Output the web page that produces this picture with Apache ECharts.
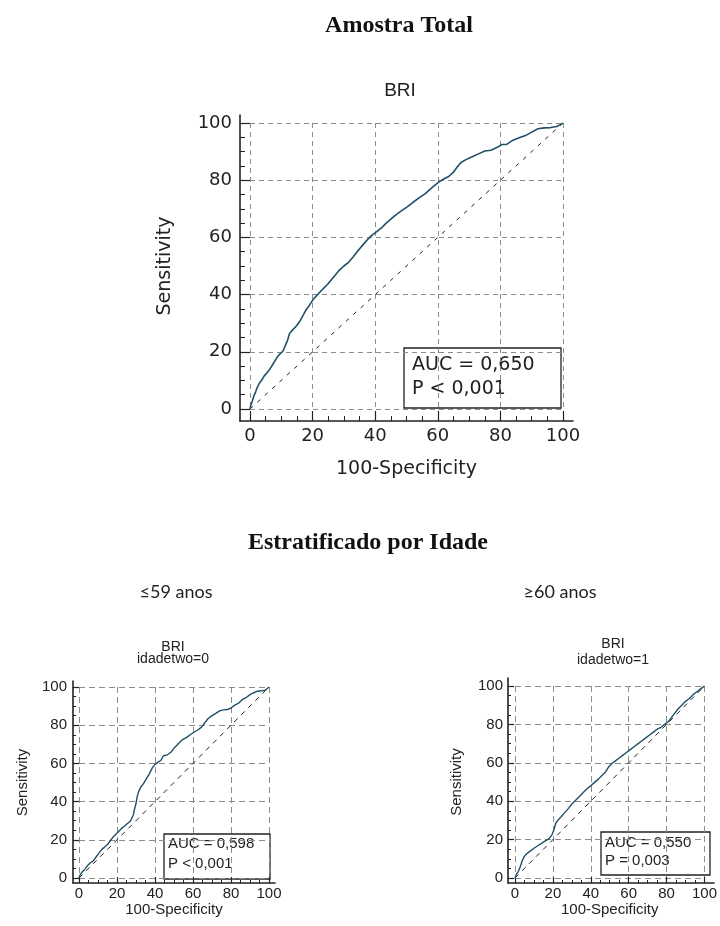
<!DOCTYPE html>
<html>
<head>
<meta charset="utf-8">
<script src="https://cdn.jsdelivr.net/npm/echarts@6/dist/echarts.min.js"></script>
<style>
html,body{margin:0;padding:0;background:#fff;}
#c{width:720px;height:926px;}
</style>
</head>
<body>
<div id="c"></div>
<script>
// ---------- data ----------
var axisTicks = [0, 20, 40, 60, 80, 100];
var diagonal = [[0, 0], [100, 100]];

// Amostra Total - BRI
var rocTotal = [[0,0],[0.3,1.5],[0.8,3],[1.2,4.5],[1.8,6],[2.3,7.5],[3,9],[3.8,10.2],[4.5,11.5],[5.5,12.8],[6.5,14.2],[7.5,16],[8.5,17.8],[9.5,19.2],[10.5,20.2],[11.2,22],[12,24],[12.6,26.3],[13.5,27.5],[14.8,29],[16,30.8],[17,32.8],[18,34.8],[19,36.3],[20,38],[21,39.3],[22.3,40.8],[23.5,42.2],[24.8,43.6],[26,45.2],[27.2,46.8],[28.5,48.5],[30,50],[31.5,51.3],[33,53.2],[34.5,55.3],[36,57.3],[37.5,59.2],[39,60.8],[40.5,62],[42,63.3],[43.5,65],[45,66.4],[46.5,67.8],[48,69],[50,70.5],[52,72.2],[54,73.8],[56,75.3],[57.5,76.8],[59,78.2],[60.5,79.5],[62,80.5],[63.5,81.3],[65,82.8],[66.2,84.6],[67.5,86.3],[69,87.2],[71,88.2],[73,89.2],[75,90.2],[77,90.5],[79,91.5],[80.5,92.5],[82,92.5],[84,94],[86,94.8],[88,95.6],[90,96.8],[92,98],[94,98.3],[96,98.4],[98,98.8],[99.5,99.6],[100,100]];

// idadetwo=0 (<=59 anos)
var rocYoung = [[0,0],[0.5,1.5],[1.5,3],[3,4.5],[4.5,6.5],[6,8],[7.5,9],[9,11],[10.5,13],[12,15],[13.5,16.2],[15,17.5],[16.5,19.5],[18,21.5],[19.5,23],[21,24.5],[22.5,26],[24,27.2],[25.5,28.5],[27,29.7],[28,30.5],[28.6,33],[29.2,36],[30,39],[30.6,42.5],[31.5,45.5],[32.5,47.5],[34,49.5],[35.5,52],[37,54.5],[38.5,57.5],[40,59.5],[41.5,60.5],[43,61.5],[44.5,64],[46.5,64.5],[48.5,66],[50.5,68.5],[52.5,70.5],[54.5,72.5],[56.5,73.5],[58.5,75],[60.5,76.3],[62.5,77.5],[64.5,79],[66,81],[68,83.5],[70,85],[72,86.2],[74,87.5],[76,88],[78,88.2],[80,89],[82,90.5],[84,91.5],[86,93.5],[88,94.5],[90,96],[92,97],[94,97.8],[96,98],[98,98.3],[100,100]];

// idadetwo=1 (>=60 anos)
var rocOld = [[0,0],[0.8,2],[1.8,3.5],[2.8,6],[3.8,9],[4.8,11],[6,12.5],[8,14],[10,15.5],[12,16.8],[14,18],[16,19.3],[18,20.5],[19.5,22.5],[20.5,25],[21.5,28.5],[23,30.5],[24.5,32],[26,33.8],[28,36],[30,38.5],[32,40.5],[34,42.5],[36,44.5],[38,46.5],[40,48],[42,49.8],[44,51.5],[46,53.5],[48,55.5],[49.5,58],[51,59.5],[53,61],[55,62.5],[57,64],[59,65.5],[61,67],[63,68.5],[65,70],[67,71.5],[69,73],[71,74.5],[73,76],[75,77.5],[77,78.5],[79,80],[81,81.5],[82.5,83.5],[84,85.5],[86,88],[88,90],[90,92],[92,93.5],[94,95.5],[96,97],[98,98.5],[100,100]];

var statsTotal = ['AUC = 0,650', 'P < 0,001'];
var statsYoung = ['AUC = 0,598', 'P < 0,001'];
var statsOld = ['AUC = 0,550', 'P = 0,003'];

// ---------- styles ----------
var curveColor = '#1f5068';
var axisColor = '#222';
var gridColor = '#8c8c8c';
var bigFont = 'DejaVu Sans';
var smallFont = 'Liberation Sans';

function dataAxis(gi, o) {
  return {
    type: 'value', gridIndex: gi, min: axisTicks[0], max: axisTicks[axisTicks.length - 1],
    interval: axisTicks[1] - axisTicks[0], offset: o.offset,
    axisLine: {show: false, onZero: false},
    axisTick: {show: true, inside: true, length: o.tick, lineStyle: {color: axisColor, width: 1.2}},
    minorTick: {show: true, splitNumber: 4, length: o.minor, lineStyle: {color: axisColor, width: 1}},
    axisLabel: {margin: o.margin, fontFamily: o.font, fontSize: o.size, color: axisColor},
    splitLine: {show: true, lineStyle: {type: o.dash, color: gridColor, width: 1}},
    name: o.name, nameLocation: 'middle', nameGap: o.nameGap,
    nameTextStyle: {fontFamily: o.font, fontSize: o.nameSize, color: axisColor}
  };
}
function frameAxis(gi) {
  return {
    type: 'value', gridIndex: gi, min: 0, max: 1,
    axisLine: {show: true, onZero: false, lineStyle: {color: axisColor, width: 1.6}},
    axisTick: {show: false}, axisLabel: {show: false}, splitLine: {show: false}
  };
}
function rocSeries(idx, data, w) {
  return {type: 'line', xAxisIndex: idx, yAxisIndex: idx, data: data, showSymbol: false,
    lineStyle: {color: curveColor, width: w}, z: 5, animation: false};
}
function diagSeries(idx, dash) {
  return {type: 'line', xAxisIndex: idx, yAxisIndex: idx, data: diagonal, showSymbol: false,
    lineStyle: {color: '#222', width: 1, type: dash}, z: 4, animation: false};
}
function statBox(x, y, w, h, tx, ty, lines, font, size, lh) {
  return {type: 'group', z: 100, children: [
    {type: 'rect', shape: {x: x, y: y, width: w, height: h},
      style: {fill: '#fff', stroke: axisColor, lineWidth: 1.3}},
    {type: 'text', style: {x: tx, y: ty, text: lines.join('\n'), font: size + 'px "' + font + '"',
      fill: axisColor, lineHeight: lh, verticalAlign: 'top', align: 'left'}}
  ]};
}

var mainOpt = {font: bigFont, size: 18, nameSize: 19, tick: 10, minor: 5, dash: [5, 4]};
var smallOpt = {font: smallFont, size: 15, nameSize: 15, tick: 6, minor: 3, dash: [6, 4]};
function ext(base, extra) { var r = {}; for (var k in base) r[k] = base[k]; for (var k2 in extra) r[k2] = extra[k2]; return r; }

var option = {
  backgroundColor: '#fff',
  animation: false,
  title: [
    {text: 'Amostra Total', left: 399, top: 14, textAlign: 'center', padding: 0,
      textStyle: {fontFamily: 'Liberation Serif', fontWeight: 'bold', fontSize: 24, color: '#111'}},
    {text: 'BRI', left: 400, top: 81, textAlign: 'center', padding: 0,
      textStyle: {fontFamily: smallFont, fontWeight: 'normal', fontSize: 19, color: axisColor}},
    {text: 'Estratificado por Idade', left: 368, top: 531, textAlign: 'center', padding: 0,
      textStyle: {fontFamily: 'Liberation Serif', fontWeight: 'bold', fontSize: 24, color: '#111'}},
    {text: '≤59 anos', left: 176, top: 583, textAlign: 'center', padding: 0,
      textStyle: {fontFamily: 'Lato', fontWeight: 'normal', fontSize: 18, color: '#222'}},
    {text: '≥60 anos', left: 560, top: 583, textAlign: 'center', padding: 0,
      textStyle: {fontFamily: 'Lato', fontWeight: 'normal', fontSize: 18, color: '#222'}},
    {text: 'BRI\nidadetwo=0', left: 173, top: 641, textAlign: 'center', padding: 0,
      textStyle: {fontFamily: smallFont, fontWeight: 'normal', fontSize: 14, lineHeight: 12, color: axisColor}},
    {text: 'BRI\nidadetwo=1', left: 613, top: 636, textAlign: 'center', padding: 0,
      textStyle: {fontFamily: smallFont, fontWeight: 'normal', fontSize: 14, lineHeight: 16, color: axisColor}}
  ],
  grid: [
    {left: 250, top: 123, width: 313, height: 286},
    {left: 240, top: 115, width: 333, height: 306},
    {left: 79, top: 687, width: 190, height: 191},
    {left: 73, top: 681, width: 202, height: 202},
    {left: 515, top: 686, width: 192, height: 192},
    {left: 508, top: 678, width: 206, height: 205}
  ],
  xAxis: [
    dataAxis(0, ext(mainOpt, {offset: 12, margin: 6, name: '100-Specificity', nameGap: 39})),
    frameAxis(1),
    dataAxis(2, ext(smallOpt, {offset: 5, margin: 3, name: '100-Specificity', nameGap: 19})),
    frameAxis(3),
    dataAxis(4, ext(smallOpt, {offset: 5, margin: 3, name: '100-Specificity', nameGap: 19})),
    frameAxis(5)
  ],
  yAxis: [
    dataAxis(0, ext(mainOpt, {offset: 10, margin: 8, name: 'Sensitivity', nameGap: 65})),
    frameAxis(1),
    dataAxis(2, ext(smallOpt, {offset: 6, margin: 6, name: 'Sensitivity', nameGap: 43})),
    frameAxis(3),
    dataAxis(4, ext(smallOpt, {offset: 7, margin: 5, name: 'Sensitivity', nameGap: 44})),
    frameAxis(5)
  ],
  series: [
    diagSeries(0, [4, 6]),
    rocSeries(0, rocTotal, 1.6),
    diagSeries(2, [5, 5]),
    rocSeries(2, rocYoung, 1.4),
    diagSeries(4, [5, 5]),
    rocSeries(4, rocOld, 1.4)
  ],
  graphic: [
    statBox(404, 348, 157, 60, 412, 353, statsTotal, bigFont, 19, 24),
    statBox(164, 834, 106, 45, 168, 834, statsYoung, smallFont, 15, 20),
    statBox(601, 832, 109, 43, 605, 834, statsOld, smallFont, 15, 18)
  ]
};

var chart = echarts.init(document.getElementById('c'), null, {renderer: 'canvas'});
chart.setOption(option);
</script>
</body>
</html>
